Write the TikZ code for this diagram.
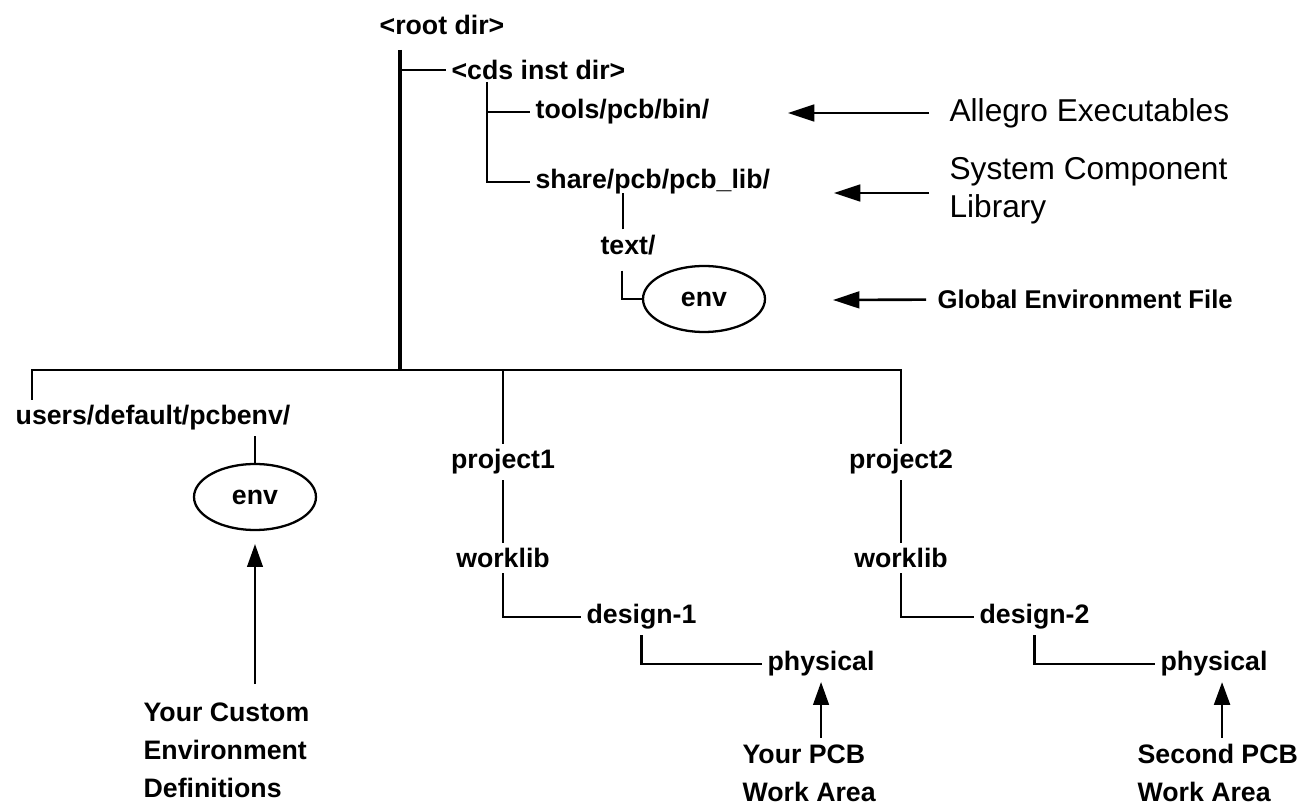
\documentclass[tikz,border=0pt]{standalone}
\usepackage{fontspec}
\setmainfont{Liberation Sans}
\usetikzlibrary{arrows.meta, shapes.geometric}

\newcommand\dirfont{\fontsize{15.2}{21.6}\selectfont\bfseries}
\newcommand\notefont{\fontsize{18}{21.6}\selectfont}
\newcommand\smallnotefont{\fontsize{14.6}{17}\selectfont\bfseries}

\tikzset{
    dir/.style={font=\dirfont, inner sep=3pt},
    envfile/.style={ellipse, draw, line width=1.3pt, inner sep=0pt,
        minimum width=2.44cm, minimum height=1.32cm, font=\dirfont},
    note/.style={font=\notefont, inner sep=3pt, align=left},
    stem/.style={line width=1.6pt},
    callout/.style={line width=1.5pt, -{Triangle[length=15pt, width=9.5pt]}, shorten <=0.3cm},
    pointer/.style={-{Triangle[length=13pt, width=9pt]}}
}

\begin{document}
\begin{tikzpicture}[x=0.02cm, y=-0.02cm]

\useasboundingbox (0,0) rectangle (1303,807);

% --- Installation tree ---
\node[dir] (root) at (442,25) {<root dir>};
\node[dir, anchor=west] (cds) at (446,70) {<cds inst dir>};
\node[dir, anchor=west] (tools) at (530,112) {tools/pcb/bin/};
\node[dir, anchor=west] (share) at (530,182) {share/pcb/pcb\_lib/};
\node[dir] (text) at (628,245) {text/};
\node[envfile] (genv) at (704,299) {env};

\coordinate (trunk) at (400,50);
\coordinate (bar) at (400,370);
\coordinate (cdsJ) at (487,82);

\draw[line width=2.8pt] (trunk) -- (bar);
\draw[stem] (trunk |- cds) -- (cds);
\draw[stem] (cdsJ) -- (cdsJ |- share) -- (share);
\draw[stem] (cdsJ |- tools) -- (tools);
\draw[stem] ([xshift=-0.1cm]text.north) -- ([xshift=-0.1cm, yshift=0.14cm]text.north |- share.south);
\draw[stem] ([xshift=-0.12cm, yshift=-0.2cm]text.south) |- (genv);

% --- Beschriftung rechts ---
\node[note, anchor=west] (allegro) at (944,113) {Allegro Executables};
\node[note, anchor=west] (syslib) at (944,191) {System Component\\Library};
\node[font=\smallnotefont, inner sep=3pt, anchor=west] (global) at (932,299) {Global Environment File};

\coordinate (exeTip) at (788,113);
\coordinate (libTip) at (834,193);
\coordinate (envTip) at (833,300);

\draw[callout] (allegro) -- (exeTip);
\draw[callout] (syslib.west |- libTip) -- (libTip);
\draw[callout, shorten <=0.12cm] (global) -- (envTip);

% --- Benutzer ---
\node[dir] (users) at (153,418) {users/default/pcbenv/};
\node[envfile] (uenv) at (255,497) {env};
\node[dir, anchor=north west, align=left] (custom) at (138,697)
    {Your Custom\\Environment\\Definitions};

% --- Projekt 1 ---
\node[dir] (proj1) at (503,462) {project1};
\node[dir] (work1) at (503,558) {worklib};
\node[dir, anchor=west] (des1) at (581,617) {design-1};
\node[dir, anchor=west] (phys1) at (762,664) {physical};
\node[dir, anchor=north west, align=left] (pcb1) at (737,739) {Your PCB\\Work Area};

% --- Projekt 2 ---
\node[dir] (proj2) at (901,462) {project2};
\node[dir] (work2) at (901,558) {worklib};
\node[dir, anchor=west] (des2) at (974,617) {design-2};
\node[dir, anchor=west] (phys2) at (1155,664) {physical};
\node[dir, anchor=north west, align=left] (pcb2) at (1132,739) {Second PCB\\Work Area};

% --- Verteiler ---
\coordinate (uJ) at (32,370);
\draw[line width=1.7pt] (uJ |- users.north) -- (uJ) -- (proj2 |- bar) -- (proj2);
\draw[stem] (proj1 |- bar) -- (proj1);

\draw[stem] (uenv |- users.south) -- (uenv);
\draw[pointer, line width=0.9pt] ([yshift=0.26cm]uenv.south |- custom.north) -- ([yshift=-0.26cm]uenv.south);

\draw[stem] (proj1) -- (work1);
\draw[stem] (work1.south) |- (des1);
\draw[stem] (des1.south) |- (phys1);
\draw[pointer, line width=1pt] ([yshift=0.02cm]phys1.south |- pcb1.north) -- (phys1.south);

\draw[stem] (proj2) -- (work2);
\draw[stem] (work2.south) |- (des2);
\draw[stem] (des2.south) |- (phys2);
\draw[pointer, line width=1.6pt] ([xshift=0.16cm, yshift=0.02cm]phys2.south |- pcb2.north) -- ([xshift=0.16cm]phys2.south);

\end{tikzpicture}
\end{document}
